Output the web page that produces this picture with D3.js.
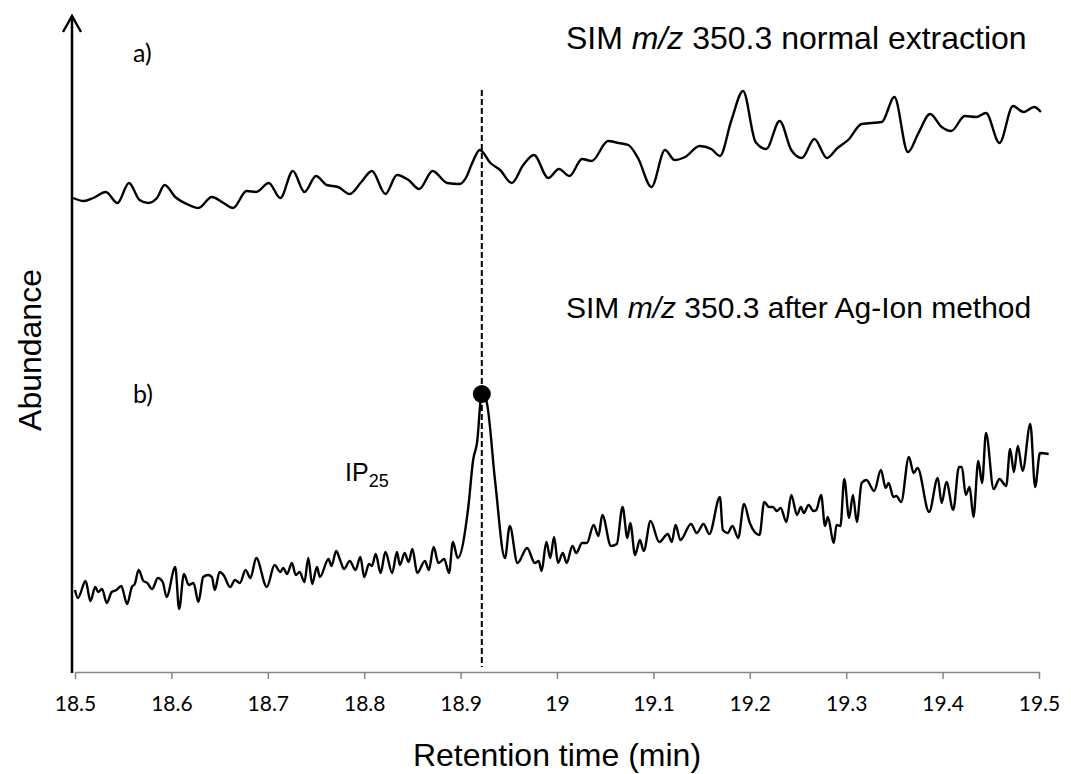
<!DOCTYPE html>
<html>
<head>
<meta charset="utf-8">
<script src="https://cdn.jsdelivr.net/npm/d3@7"></script>
<style>
  body { margin: 0; background: #fff; }
  svg { display: block; }
</style>
</head>
<body>
<div id="chart"></div>
<script>
// retention time (min) for trace a)
const timeA = [18.498, 18.509, 18.519, 18.532, 18.544, 18.556, 18.567, 18.576, 18.585, 18.593,
  18.604, 18.616, 18.628, 18.642, 18.654, 18.664, 18.678, 18.688, 18.701, 18.713,
  18.726, 18.738, 18.750, 18.761, 18.773, 18.785, 18.797, 18.808, 18.822, 18.834,
  18.846, 18.857, 18.871, 18.886, 18.899, 18.906, 18.912, 18.920, 18.931, 18.941,
  18.953, 18.965, 18.976, 18.991, 19.002, 19.013, 19.026, 19.036, 19.053, 19.064,
  19.074, 19.084, 19.098, 19.112, 19.122, 19.133, 19.148, 19.160, 19.169, 19.181,
  19.193, 19.206, 19.217, 19.231, 19.243, 19.254, 19.267, 19.280, 19.291, 19.302,
  19.316, 19.337, 19.350, 19.364, 19.375, 19.387, 19.399, 19.409, 19.423, 19.435,
  19.445, 19.459, 19.473, 19.484, 19.495, 19.502];
// abundance (arbitrary units) for trace a)
const abundA = [474, 471, 474, 480, 469, 489, 472, 469, 474, 487,
  475, 468, 464, 475, 469, 464, 481, 480, 489, 474,
  501, 480, 496, 487, 485, 478, 490, 501, 478, 497,
  492, 483, 501, 489, 488, 495, 509, 522, 509, 502,
  489, 507, 517, 494, 503, 496, 513, 511, 531, 529,
  527, 514, 485, 522, 512, 515, 526, 523, 516, 552,
  581, 530, 523, 551, 522, 514, 533, 514, 524, 532,
  548, 550, 575, 520, 539, 558, 545, 541, 556, 555,
  559, 529, 566, 560, 565, 560];

// retention time (min) for trace b)
const timeB = [18.500, 18.503, 18.511, 18.516, 18.521, 18.524, 18.528, 18.533, 18.538, 18.543,
  18.548, 18.554, 18.559, 18.562, 18.566, 18.571, 18.575, 18.580, 18.586, 18.591,
  18.595, 18.604, 18.608, 18.613, 18.618, 18.623, 18.628, 18.633, 18.638, 18.642,
  18.645, 18.650, 18.654, 18.661, 18.666, 18.671, 18.677, 18.682, 18.688, 18.699,
  18.707, 18.713, 18.716, 18.720, 18.725, 18.729, 18.733, 18.738, 18.742, 18.746,
  18.751, 18.754, 18.763, 18.766, 18.771, 18.775, 18.779, 18.785, 18.791, 18.796,
  18.800, 18.805, 18.808, 18.812, 18.817, 18.822, 18.829, 18.834, 18.837, 18.842,
  18.846, 18.850, 18.855, 18.863, 18.867, 18.872, 18.877, 18.883, 18.888, 18.892,
  18.897, 18.908, 18.913, 18.917, 18.922, 18.927, 18.936, 18.946, 18.951, 18.959,
  18.969, 18.977, 18.981, 18.984, 18.989, 18.993, 18.997, 19.001, 19.006, 19.010,
  19.016, 19.020, 19.026, 19.031, 19.038, 19.043, 19.047, 19.056, 19.062, 19.068,
  19.073, 19.076, 19.081, 19.086, 19.090, 19.097, 19.106, 19.115, 19.119, 19.123,
  19.128, 19.139, 19.145, 19.152, 19.158, 19.169, 19.172, 19.177, 19.182, 19.188,
  19.194, 19.200, 19.210, 19.215, 19.220, 19.224, 19.228, 19.232, 19.238, 19.243,
  19.249, 19.253, 19.256, 19.261, 19.266, 19.269, 19.274, 19.278, 19.281, 19.287,
  19.290, 19.294, 19.298, 19.303, 19.307, 19.311, 19.316, 19.321, 19.329, 19.336,
  19.341, 19.344, 19.349, 19.352, 19.357, 19.365, 19.370, 19.374, 19.386, 19.395,
  19.399, 19.404, 19.411, 19.417, 19.420, 19.424, 19.428, 19.432, 19.437, 19.441,
  19.445, 19.453, 19.459, 19.466, 19.470, 19.474, 19.478, 19.483, 19.491, 19.496,
  19.501, 19.510];
// abundance (arbitrary units) for trace b)
const abundB = [82, 74, 91, 71, 85, 80, 83, 69, 80, 82,
  86, 68, 85, 88, 102, 91, 89, 83, 94, 90,
  75, 105, 63, 98, 87, 89, 70, 95, 97, 95,
  82, 100, 97, 85, 92, 89, 102, 94, 114, 85,
  107, 100, 104, 98, 109, 97, 100, 90, 114, 88,
  105, 95, 113, 106, 121, 112, 103, 111, 102, 115,
  95, 108, 106, 118, 99, 120, 99, 120, 107, 119,
  110, 123, 99, 111, 102, 125, 109, 113, 99, 130,
  114, 165, 212, 229, 278, 270, 189, 114, 146, 109,
  124, 109, 111, 101, 130, 114, 135, 109, 119, 109,
  126, 119, 129, 129, 147, 136, 157, 126, 128, 165,
  134, 149, 117, 132, 121, 151, 130, 138, 130, 147,
  132, 148, 139, 148, 138, 175, 142, 139, 146, 134,
  168, 149, 137, 170, 165, 165, 161, 164, 150, 177,
  157, 165, 159, 167, 161, 162, 177, 146, 155, 129,
  147, 146, 193, 154, 177, 150, 189, 192, 181, 202,
  184, 189, 175, 176, 170, 215, 199, 204, 160, 194,
  169, 190, 162, 205, 205, 177, 185, 155, 211, 189,
  239, 183, 193, 186, 223, 200, 226, 201, 248, 185,
  219, 218];

const xTicks = [18.5, 18.6, 18.7, 18.8, 18.9, 19, 19.1, 19.2, 19.3, 19.4, 19.5];
const peakTime = 18.922;
const peakAbund = 278;

const width = 1071, height = 774;

const svg = d3.select('#chart').append('svg')
  .attr('width', width)
  .attr('height', height);

const x = d3.scaleLinear().domain([18.5, 19.5]).range([75, 1039]);
const y = d3.scaleLinear().domain([0, 656]).range([672, 16]);

// x axis (grey, Excel style)
const xAxis = svg.append('g')
  .attr('transform', `translate(0,${y(0)})`)
  .call(d3.axisBottom(x)
    .tickValues(xTicks)
    .tickSize(7)
    .tickSizeOuter(0)
    .tickPadding(17)
    .tickFormat(d => String(d)));
xAxis.select('.domain').attr('stroke', '#868686').attr('stroke-width', 1.5);
xAxis.selectAll('.tick line').attr('stroke', '#868686').attr('stroke-width', 1.5);
xAxis.selectAll('.tick text')
  .attr('fill', '#000')
  .style('font-family', 'Lato, "Open Sans", sans-serif')
  .style('font-size', '21px');

// y axis with open arrow
const axX = x(18.5) - 3;
svg.append('line')
  .attr('x1', axX).attr('x2', axX)
  .attr('y1', y(0) + 1).attr('y2', y(656))
  .attr('stroke', '#000').attr('stroke-width', 2.5);
svg.append('path')
  .attr('d', `M${axX - 9},${y(640)} L${axX},${y(656)} L${axX + 9},${y(640)}`)
  .attr('fill', 'none').attr('stroke', '#000').attr('stroke-width', 2.5);

// retention time marker
svg.append('line')
  .attr('x1', x(peakTime)).attr('x2', x(peakTime))
  .attr('y1', y(582)).attr('y2', y(5))
  .attr('stroke', '#000').attr('stroke-width', 2)
  .attr('stroke-dasharray', '6,3');

const line = d3.line()
  .x(d => x(d[0]))
  .y(d => y(d[1]))
  .curve(d3.curveMonotoneX);

svg.append('path')
  .datum(d3.zip(timeA, abundA))
  .attr('d', line)
  .attr('fill', 'none').attr('stroke', '#000').attr('stroke-width', 2.4);

svg.append('path')
  .datum(d3.zip(timeB, abundB))
  .attr('d', line)
  .attr('fill', 'none').attr('stroke', '#000').attr('stroke-width', 2.4);

svg.append('circle')
  .attr('cx', x(peakTime)).attr('cy', y(peakAbund))
  .attr('r', 9).attr('fill', '#000');

// labels
const sans = 'Liberation Sans, Arial, sans-serif';
const calib = 'Lato, "Open Sans", sans-serif';

svg.append('text').attr('x', 133).attr('y', 62)
  .style('font-family', calib).style('font-size', '25px').text('a)');
svg.append('text').attr('x', 133).attr('y', 403)
  .style('font-family', calib).style('font-size', '25px').text('b)');

function simTitle(yPos, size, rest) {
  const t = svg.append('text').attr('x', 566).attr('y', yPos)
    .style('font-family', sans).style('font-size', size + 'px');
  t.append('tspan').text('SIM ');
  t.append('tspan').style('font-style', 'italic').text('m/z');
  t.append('tspan').text(' 350.3 ' + rest);
}
simTitle(49, 32, 'normal extraction');
simTitle(318, 30, 'after Ag-Ion method');

const ip = svg.append('text').attr('x', 345).attr('y', 481)
  .style('font-family', sans).style('font-size', '25px');
ip.append('tspan').text('IP');
ip.append('tspan').attr('dy', 6).style('font-size', '18px').text('25');

svg.append('text')
  .attr('transform', `translate(${41},${350}) rotate(-90)`)
  .attr('text-anchor', 'middle')
  .style('font-family', sans).style('font-size', '32px')
  .text('Abundance');

svg.append('text')
  .attr('x', 557).attr('y', 766)
  .attr('text-anchor', 'middle')
  .style('font-family', sans).style('font-size', '32px')
  .text('Retention time (min)');
</script>
</body>
</html>
